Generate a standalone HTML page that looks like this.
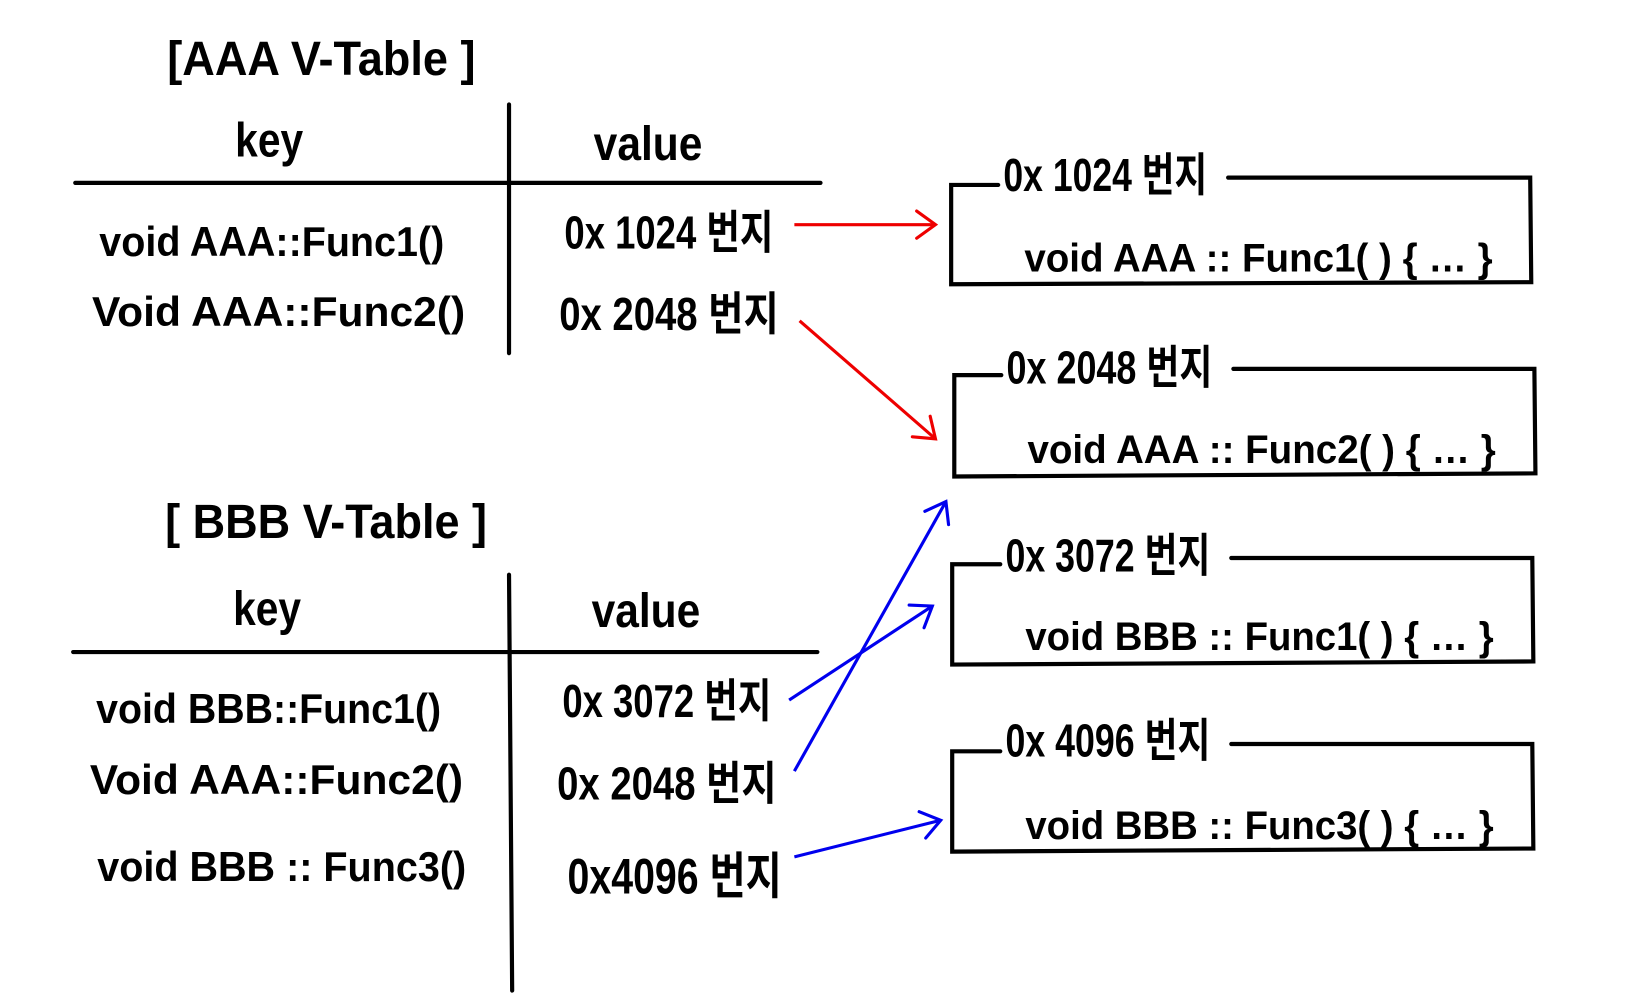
<!DOCTYPE html>
<html><head><meta charset="utf-8"><style>
html,body{margin:0;padding:0;background:#fff;}
svg{display:block}
text{font-family:"Liberation Sans Narrow","Liberation Sans","Noto Sans CJK KR",sans-serif;font-weight:bold;fill:#000;}
</style></head><body>
<svg width="1641" height="1000" viewBox="0 0 1570 957" preserveAspectRatio="none" xmlns="http://www.w3.org/2000/svg">
<defs>
<marker id="ar" markerWidth="24" markerHeight="30" refX="20" refY="15" orient="auto" markerUnits="userSpaceOnUse" viewBox="0 0 24 30"><path d="M2,2 L20,15 L2,28" fill="none" stroke="#e00" stroke-width="3" stroke-linecap="round"/></marker>
<marker id="ab" markerWidth="24" markerHeight="30" refX="20" refY="15" orient="auto" markerUnits="userSpaceOnUse" viewBox="0 0 24 30"><path d="M2,2 L20,15 L2,28" fill="none" stroke="#00e" stroke-width="3" stroke-linecap="round"/></marker>
</defs>
<g stroke="#000" stroke-width="4" fill="none" stroke-linecap="round">
<line x1="487" y1="100" x2="487" y2="338"/>
<line x1="72" y1="175" x2="785" y2="175"/>
<line x1="487" y1="550" x2="490" y2="948"/>
<line x1="70" y1="624" x2="782" y2="624"/>
<path d="M955,177 L910,177 L910,272 L1465,270 L1464,170 L1175,170"/>
<path d="M958,359 L913,359 L913,456 L1469,453 L1468,353 L1180,353"/>
<path d="M957,540 L911,540 L911,636 L1467,633 L1466,534 L1178,534"/>
<path d="M957,719 L911,719 L911,815 L1467,812 L1466,712 L1178,712"/>
</g>
<g stroke-width="3" fill="none">
<line x1="760" y1="215" x2="895" y2="215" stroke="#e00" marker-end="url(#ar)"/>
<line x1="765" y1="307" x2="895" y2="420" stroke="#e00" marker-end="url(#ar)"/>
<line x1="755" y1="670" x2="892" y2="580" stroke="#00e" marker-end="url(#ab)"/>
<line x1="760" y1="738" x2="905" y2="480" stroke="#00e" marker-end="url(#ab)"/>
<line x1="760" y1="820" x2="900" y2="785" stroke="#00e" marker-end="url(#ab)"/>
</g>
<text x="160" y="72" font-size="46" textLength="295" lengthAdjust="spacingAndGlyphs">[AAA V-Table ]</text>
<text x="225" y="150" font-size="46" textLength="65" lengthAdjust="spacingAndGlyphs">key</text>
<text x="568" y="153" font-size="46" textLength="104" lengthAdjust="spacingAndGlyphs">value</text>
<text x="95" y="245" font-size="40" textLength="330" lengthAdjust="spacingAndGlyphs">void  AAA::Func1()</text>
<text x="88" y="312" font-size="40" textLength="357" lengthAdjust="spacingAndGlyphs">Void  AAA::Func2()</text>
<text x="540" y="238" font-size="44" textLength="200" lengthAdjust="spacingAndGlyphs">0x 1024 번지</text>
<text x="535" y="316" font-size="44" textLength="210" lengthAdjust="spacingAndGlyphs">0x 2048 번지</text>

<text x="158" y="515" font-size="46" textLength="308" lengthAdjust="spacingAndGlyphs">[ BBB  V-Table ]</text>
<text x="223" y="598" font-size="46" textLength="65" lengthAdjust="spacingAndGlyphs">key</text>
<text x="566" y="600" font-size="46" textLength="104" lengthAdjust="spacingAndGlyphs">value</text>
<text x="92" y="692" font-size="40" textLength="330" lengthAdjust="spacingAndGlyphs">void  BBB::Func1()</text>
<text x="86" y="760" font-size="40" textLength="357" lengthAdjust="spacingAndGlyphs">Void  AAA::Func2()</text>
<text x="93" y="843" font-size="40" textLength="353" lengthAdjust="spacingAndGlyphs">void  BBB :: Func3()</text>
<text x="538" y="686" font-size="44" textLength="200" lengthAdjust="spacingAndGlyphs">0x 3072 번지</text>
<text x="533" y="765" font-size="44" textLength="210" lengthAdjust="spacingAndGlyphs">0x 2048 번지</text>
<text x="543" y="855" font-size="48" textLength="205" lengthAdjust="spacingAndGlyphs">0x4096 번지</text>

<text x="960" y="183" font-size="44" textLength="195" lengthAdjust="spacingAndGlyphs">0x 1024 번지</text>
<text x="980" y="260" font-size="38" textLength="448" lengthAdjust="spacingAndGlyphs">void AAA :: Func1( ) { … }</text>
<text x="963" y="367" font-size="44" textLength="197" lengthAdjust="spacingAndGlyphs">0x 2048 번지</text>
<text x="983" y="443" font-size="38" textLength="448" lengthAdjust="spacingAndGlyphs">void AAA :: Func2( ) { … }</text>
<text x="962" y="547" font-size="44" textLength="196" lengthAdjust="spacingAndGlyphs">0x 3072 번지</text>
<text x="981" y="622" font-size="38" textLength="448" lengthAdjust="spacingAndGlyphs">void  BBB :: Func1( ) { … }</text>
<text x="962" y="724" font-size="44" textLength="196" lengthAdjust="spacingAndGlyphs">0x  4096 번지</text>
<text x="981" y="803" font-size="38" textLength="448" lengthAdjust="spacingAndGlyphs">void  BBB :: Func3( ) { … }</text>
</svg>
</body></html>
